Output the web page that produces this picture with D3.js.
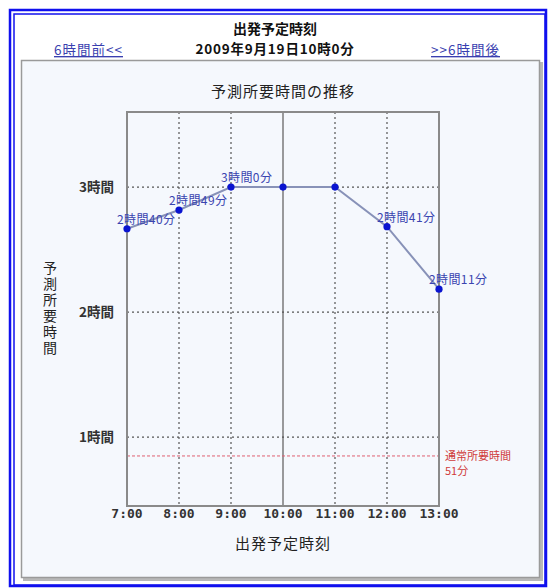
<!DOCTYPE html>
<html>
<head>
<meta charset="utf-8">
<script src="https://cdn.jsdelivr.net/npm/d3@7"></script>
<style>
  body { margin: 0; background: #fff; }
  svg { display: block; }
  text { font-family: "Noto Sans CJK JP", sans-serif; }
</style>
</head>
<body>
<script>
// data
let hours = ["7:00", "8:00", "9:00", "10:00", "11:00", "12:00", "13:00"];
let minutes = [160, 169, 180, 180, 180, 161, 131];
let labels = ["2時間40分", "2時間49分", "3時間0分", "", "", "2時間41分", "2時間11分"];
let yTicks = [60, 120, 180];
let yTickLabels = ["1時間", "2時間", "3時間"];
let normalTime = 51;

let W = 549, H = 588;
let svg = d3.select("body").append("svg").attr("width", W).attr("height", H);

// blue double frame
svg.append("rect").attr("x", 10).attr("y", 10).attr("width", 536).attr("height", 576)
    .attr("fill", "#fff").attr("stroke", "#1010ee").attr("stroke-width", 2.5);
svg.append("rect").attr("x", 14).attr("y", 14).attr("width", 531).attr("height", 571)
    .attr("fill", "none").attr("stroke", "#1010ee").attr("stroke-width", 1.5);

// gray panel with a bit of shadow
svg.append("rect").attr("x", 23).attr("y", 62).attr("width", 520).attr("height", 519)
    .attr("fill", "#b8b8b8");
svg.append("rect").attr("x", 21.5).attr("y", 60.5).attr("width", 518).attr("height", 517)
    .attr("fill", "#f5f8fd").attr("stroke", "#9a9a9a").attr("stroke-width", 1.5);

// header
svg.append("text").text("出発予定時刻")
    .attr("x", 275).attr("y", 34).attr("text-anchor", "middle")
    .attr("font-size", 14).attr("font-weight", "bold").attr("fill", "#111");
svg.append("text").text("2009年9月19日10時0分")
    .attr("x", 275).attr("y", 54).attr("text-anchor", "middle")
    .attr("font-size", 13.5).attr("letter-spacing", 0.8).attr("font-weight", "bold").attr("fill", "#111");
svg.append("text").text("6時間前<<")
    .attr("x", 54).attr("y", 55).attr("font-size", 13.5).attr("letter-spacing", 1)
    .attr("fill", "#3a3fb0").attr("text-decoration", "underline");
svg.append("text").text(">>6時間後")
    .attr("x", 500).attr("y", 55).attr("text-anchor", "end").attr("font-size", 13.5).attr("letter-spacing", 1)
    .attr("fill", "#3a3fb0").attr("text-decoration", "underline");

// plot area
let pLeft = 127, pRight = 439, pTop = 112, pBottom = 506;
let x = d3.scalePoint().domain(hours).range([pLeft, pRight]);
let y = d3.scaleLinear().domain([27, 216]).range([pBottom, pTop]);

svg.append("text").text("予測所要時間の推移")
    .attr("x", (pLeft + pRight) / 2).attr("y", 97).attr("text-anchor", "middle")
    .attr("font-size", 15).attr("letter-spacing", 1).attr("fill", "#222");

// grid
svg.selectAll(".vgrid").data(hours.slice(1, -1)).enter().append("line")
    .attr("x1", d => x(d)).attr("x2", d => x(d))
    .attr("y1", pTop).attr("y2", pBottom)
    .attr("stroke", d => d === "10:00" ? "#7a7a7a" : "#555")
    .attr("stroke-width", d => d === "10:00" ? 1.5 : 1.2)
    .attr("stroke-dasharray", d => d === "10:00" ? null : "2,3");
svg.selectAll(".hgrid").data(yTicks).enter().append("line")
    .attr("x1", pLeft).attr("x2", pRight)
    .attr("y1", d => y(d)).attr("y2", d => y(d))
    .attr("stroke", "#555").attr("stroke-width", 1.2).attr("stroke-dasharray", "2,3");

// normal time line
svg.append("line")
    .attr("x1", pLeft).attr("x2", pRight)
    .attr("y1", y(normalTime)).attr("y2", y(normalTime))
    .attr("stroke", "#e06070").attr("stroke-width", 1).attr("stroke-dasharray", "3,2");
svg.append("text").text("通常所要時間")
    .attr("x", 445).attr("y", y(normalTime) + 4).attr("font-size", 11).attr("fill", "#d03a3a");
svg.append("text").text(normalTime + "分")
    .attr("x", 445).attr("y", y(normalTime) + 19).attr("font-size", 11).attr("fill", "#d03a3a");

// frame
svg.append("rect").attr("x", pLeft).attr("y", pTop)
    .attr("width", pRight - pLeft).attr("height", pBottom - pTop)
    .attr("fill", "none").attr("stroke", "#8a8a8a").attr("stroke-width", 2);

// y tick labels
svg.selectAll(".ylab").data(yTicks).enter().append("text")
    .text((d, i) => yTickLabels[i])
    .attr("x", 114).attr("y", d => y(d) + 5).attr("text-anchor", "end")
    .attr("font-size", 13.5).attr("font-weight", "bold").attr("fill", "#333");

// x tick labels
svg.selectAll(".xlab").data(hours).enter().append("text")
    .text(d => d)
    .attr("x", d => x(d)).attr("y", 518).attr("text-anchor", "middle")
    .style("font-family", "'DejaVu Sans Mono', monospace").attr("font-weight", "bold")
    .attr("font-size", 13).attr("fill", "#333");

// axis titles
svg.append("text").text("出発予定時刻")
    .attr("x", (pLeft + pRight) / 2).attr("y", 549).attr("text-anchor", "middle")
    .attr("font-size", 15).attr("letter-spacing", 1).attr("fill", "#222");
svg.append("text").text("予測所要時間")
    .attr("x", 50).attr("y", 261)
    .style("writing-mode", "vertical-rl").style("text-orientation", "upright")
    .attr("font-size", 14).attr("letter-spacing", 2).attr("fill", "#222");

// series
let line = d3.line().x((d, i) => x(hours[i])).y(d => y(d));
svg.append("path").datum(minutes).attr("d", line)
    .attr("fill", "none").attr("stroke", "#8892b8").attr("stroke-width", 2);
svg.selectAll(".dot").data(minutes).enter().append("circle")
    .attr("cx", (d, i) => x(hours[i])).attr("cy", d => y(d)).attr("r", 3.6)
    .attr("fill", "#0a14d0");
svg.selectAll(".vlab").data(minutes).enter().append("text")
    .text((d, i) => labels[i])
    .attr("x", (d, i) => x(hours[i]) - 10).attr("y", d => y(d) - 5)
    .attr("font-size", 12).attr("letter-spacing", 0.4).attr("fill", "#3a44b0");
</script>
</body>
</html>
